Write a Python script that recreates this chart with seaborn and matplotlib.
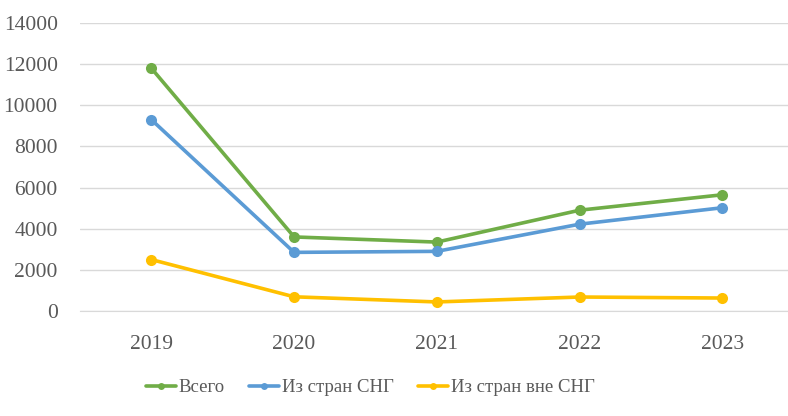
import matplotlib
matplotlib.use("Agg")
import matplotlib.pyplot as plt
import seaborn as sns
import pandas as pd

years = ["2019", "2020", "2021", "2022", "2023"]
total = [11800, 3600, 3350, 4900, 5650]
cis = [9300, 2850, 2900, 4220, 5020]
non_cis = [2500, 690, 440, 680, 630]

series_names = ["Всего", "Из стран СНГ", "Из стран вне СНГ"]
colors = ["#70AD47", "#5B9BD5", "#FFC000"]

df = pd.DataFrame({
    "year": years * 3,
    "value": total + cis + non_cis,
    "series": [series_names[0]] * 5 + [series_names[1]] * 5 + [series_names[2]] * 5,
})
df["x"] = df.groupby("series").cumcount()

sns.set_style("white")
plt.rcParams["font.family"] = ["Liberation Serif", "DejaVu Serif"]

fig = plt.figure(figsize=(7.88, 4.16), dpi=100)
ax = fig.add_axes([80 / 788, 105 / 416, 708 / 788, 288 / 416])

sns.lineplot(data=df, x="x", y="value", hue="series", palette=colors,
             marker="o", markersize=8, markeredgewidth=0, linewidth=2.6,
             ax=ax, legend=True)

ax.set_ylim(0, 14000)
ax.set_xlim(-0.5, 4.46)
ax.set_yticks(range(0, 14001, 2000))
ax.set_xticks(range(len(years)))
ax.set_xticklabels(years)
ax.yaxis.grid(True, color="#d9d9d9", linewidth=1)
ax.set_axisbelow(True)
for s in ["top", "right", "left"]:
    ax.spines[s].set_visible(False)
ax.spines["bottom"].set_color("#d9d9d9")
ax.tick_params(axis="both", length=0, labelsize=15.5, labelcolor="#595959")
ax.tick_params(axis="x", pad=17)
ax.tick_params(axis="y", pad=16)
ax.set_xlabel("")
ax.set_ylabel("")

leg = ax.legend(loc="upper center", bbox_to_anchor=(0.41, -0.178), ncol=3, frameon=False,
                fontsize=13.5, labelcolor="#595959", handlelength=1.6, handletextpad=0.15,
                columnspacing=1.3)
for h in leg.legend_handles:
    h.set_markersize(5)
    h.set_linewidth(2.6)

fig.savefig("out.png", dpi=100)
